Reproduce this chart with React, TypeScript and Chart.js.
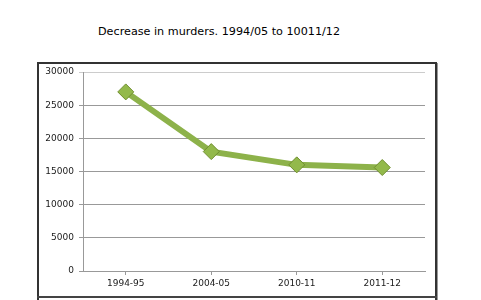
import React, { useEffect, useRef } from "react";
import { Chart, registerables } from "chart.js";

Chart.register(...registerables);

const categories = ["1994-95", "2004-05", "2010-11", "2011-12"];
const murders = [27000, 18000, 16000, 15600];
const yTicks = [0, 5000, 10000, 15000, 20000, 25000, 30000];

export default function App() {
  const ref = useRef<HTMLCanvasElement | null>(null);

  useEffect(() => {
    document.body.style.margin = "0";
    const ctx = ref.current!.getContext("2d")!;
    const chart = new Chart(ctx, {
      type: "line",
      data: {
        labels: categories,
        datasets: [
          {
            data: murders,
            borderColor: "#8DB24A",
            borderWidth: 6,
            pointStyle: "rectRot",
            pointRadius: 8,
            pointHoverRadius: 8,
            pointBackgroundColor: "#93B94B",
            pointBorderColor: "#6F8E2F",
            pointBorderWidth: 1,
            tension: 0,
          },
        ],
      },
      options: {
        animation: false,
        responsive: false,
        events: [],
        layout: { padding: { top: 72, right: 56, bottom: 0, left: 0 } },
        plugins: { legend: { display: false }, tooltip: { enabled: false }, title: { display: false } },
        scales: {
          x: {
            offset: true,
            grid: { display: true, drawOnChartArea: false, drawTicks: true, tickLength: 4, color: "#999" },
            border: { display: true, color: "#999" },
            ticks: { color: "#1a1a1a", font: { family: "DejaVu Sans", size: 9 }, padding: 3, maxRotation: 0 },
            afterFit: (s: any) => { s.height = 29; },
          },
          y: {
            min: 0,
            max: 30000,
            afterBuildTicks: (s: any) => { s.ticks = yTicks.map((v) => ({ value: v })); },
            grid: { color: (c: any) => (c.tick && c.tick.value === 30000 ? "#ccc" : "#999"), tickLength: 4 },
            border: { display: true, color: "#999" },
            ticks: {
              color: "#1a1a1a",
              font: { family: "DejaVu Sans", size: 9 },
              padding: 5,
              callback: (v: any) => String(v),
            },
            afterFit: (s: any) => { s.width = 83; },
          },
        },
      },
    });
    return () => chart.destroy();
  }, []);

  return (
    <div style={{ position: "relative", width: 481, height: 300, background: "#fff", overflow: "hidden" }}>
      <div
        style={{
          position: "absolute",
          left: 98,
          top: 25,
          fontFamily: "DejaVu Sans",
          fontSize: 11.2,
          color: "#000",
          whiteSpace: "nowrap",
        }}
      >
        Decrease in murders. 1994/05 to 10011/12
      </div>
      <div
        style={{
          position: "absolute",
          left: 37,
          top: 62,
          width: 396,
          height: 240,
          border: "2px solid #333",
          boxShadow: "1px 1px 0 #999",
        }}
      />
      <div style={{ position: "absolute", left: 37, top: 296, width: 400, height: 2, background: "#444" }} />
      <canvas ref={ref} width={481} height={300} style={{ position: "absolute", left: 0, top: 0 }} />
    </div>
  );
}
